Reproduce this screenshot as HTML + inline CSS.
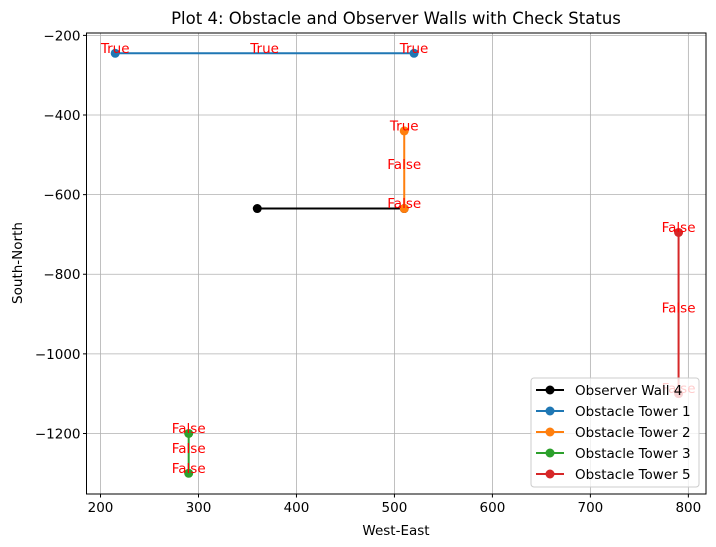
<!DOCTYPE html>
<html><head><meta charset="utf-8"><style>
body{margin:0;background:#fff}
svg{display:block;font-family:"DejaVu Sans","Liberation Sans",sans-serif}
</style></head><body>
<svg id="chart" width="716" height="547" xmlns="http://www.w3.org/2000/svg">
<rect width="716" height="547" fill="#fff"/>
<g id="grid"></g>
<g id="series"></g>
<rect x="86.5" y="33" width="619.5" height="461" fill="none" stroke="#000" stroke-width="1"/>
<g id="ticks"></g>
<text x="396" y="24" text-anchor="middle" font-size="16.5">Plot 4: Obstacle and Observer Walls with Check Status</text>
<text x="396" y="535" text-anchor="middle" font-size="13.5">West-East</text>
<text transform="translate(22,263) rotate(-90)" text-anchor="middle" font-size="13.5">South-North</text>
<g id="legend"></g>
</svg>
<script>
const xTicks=[200,300,400,500,600,700,800];
const yTicks=[-200,-400,-600,-800,-1000,-1200];
const seriesNames=["Observer Wall 4","Obstacle Tower 1","Obstacle Tower 2","Obstacle Tower 3","Obstacle Tower 5"];
const seriesColors=["#000000","#1f77b4","#ff7f0e","#2ca02c","#d62728"];
const seriesX=[[360,510],[215,520],[510,510],[290,290],[790,790]];
const seriesY=[[-635,-635],[-245,-245],[-440,-635],[-1200,-1300],[-695,-1100]];
const labelX=[215,367.5,520,510,510,510,290,290,290,790,790,790];
const labelY=[-245,-245,-245,-440,-537.5,-635,-1200,-1250,-1300,-695,-897.5,-1100];
const labelText=["True","True","True","True","False","False","False","False","False","False","False","False"];
const X0=86.5,X1=706,Y0=494,Y1=33,xmin=185.7,xmax=818,ymin=-1352,ymax=-194;
const sx=v=>X0+(v-xmin)/(xmax-xmin)*(X1-X0);
const sy=v=>Y0-(v-ymin)/(ymax-ymin)*(Y0-Y1);
const NS="http://www.w3.org/2000/svg";
function mk(tag,attrs,parent){const e=document.createElementNS(NS,tag);for(const k in attrs)e.setAttribute(k,attrs[k]);parent.appendChild(e);return e;}
const grid=document.getElementById('grid'),ticks=document.getElementById('ticks'),ser=document.getElementById('series'),leg=document.getElementById('legend');
xTicks.forEach(t=>{const x=sx(t);
 const g=mk('line',{x1:x,x2:x,y1:Y1,y2:Y0,stroke:'#b0b0b0','stroke-width':0.8},grid);
 
 
 const tk=mk('line',{x1:x,x2:x,y1:Y0,y2:Y0+3.5,stroke:'#000'},ticks);
 
 
 const tl=mk('text',{x:x,y:Y0+18,'text-anchor':'middle','font-size':13.5},ticks);tl.textContent=t;
 
 
});
yTicks.forEach(t=>{const y=sy(t);
 const g=mk('line',{x1:X0,x2:X1,y1:y,y2:y,stroke:'#b0b0b0','stroke-width':0.8},grid);
 
 
 const tk=mk('line',{x1:X0-3.5,x2:X0,y1:y,y2:y,stroke:'#000'},ticks);
 
 
 const tl=mk('text',{x:X0-6,y:y+5,'text-anchor':'end','font-size':13.5},ticks);tl.textContent=String(t).replace('-','\u2212');
 
 
});
seriesNames.forEach((n,i)=>{
 const pts=seriesX[i].map((v,j)=>sx(v)+','+sy(seriesY[i][j])).join(' ');
 const l=mk('polyline',{points:pts,fill:'none',stroke:seriesColors[i],'stroke-width':2},ser);
 
 
 seriesX[i].forEach((v,j)=>{const c=mk('circle',{cx:sx(v),cy:sy(seriesY[i][j]),r:4.5,fill:seriesColors[i]},ser);
  
  });
});
labelText.forEach((t,i)=>{const e=mk('text',{x:sx(labelX[i]),y:sy(labelY[i])-0.5,'text-anchor':'middle','font-size':13.5,fill:'#ff0000'},ser);e.textContent=t;
 
 });
const lb=mk('rect',{x:531,y:378,width:168,height:109,rx:3,fill:'#fff','fill-opacity':0.8,stroke:'#ccc'},leg);


seriesNames.forEach((n,i)=>{const y=390+i*21;
 const g=mk('g',{},leg);
 
 
 mk('line',{x1:536,x2:564,y1:y,y2:y,stroke:seriesColors[i],'stroke-width':2},g);
 mk('circle',{cx:550,cy:y,r:4.5,fill:seriesColors[i]},g);
 const t=mk('text',{x:575,y:y+5,'font-size':13.5},g);t.textContent=n;});
</script>
</body></html>
